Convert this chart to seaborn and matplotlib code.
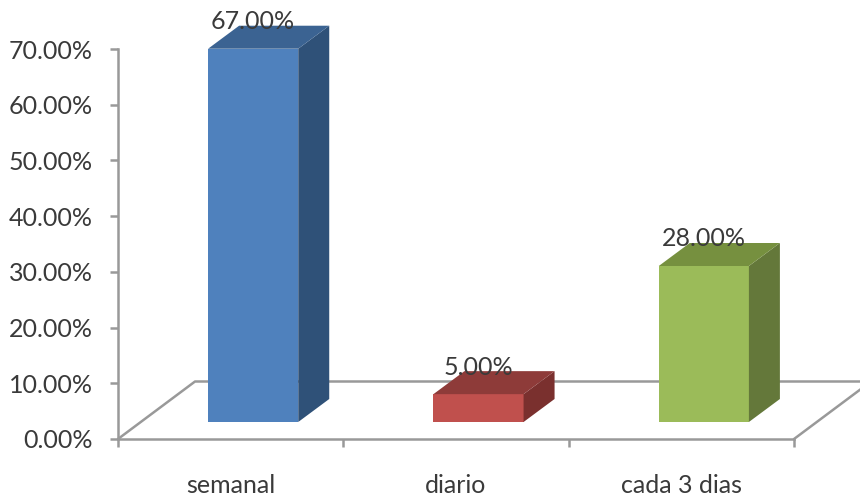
import matplotlib
matplotlib.use("Agg")
import matplotlib.pyplot as plt
import pandas as pd
import seaborn as sns
from matplotlib.patches import Polygon
from matplotlib.ticker import FuncFormatter

categories = ["semanal", "diario", "cada 3 dias"]
values = [67.0, 5.0, 28.0]
front_colors = ["#4F81BD", "#C0504D", "#9BBB59"]
side_colors = ["#2F5178", "#7A302E", "#64783A"]
top_colors = ["#3B6392", "#8E3B39", "#76903F"]
y_ticks = [0, 10, 20, 30, 40, 50, 60, 70]

W, H = 860, 495
L, R, T, B = 118, 794, 49, 439
AXIS = "#999999"
TEXT = "#3a3a3a"
FS = 18
LW = 1.8

sns.set_theme(style="white")
plt.rcParams["font.family"] = ["Lato", "DejaVu Sans"]

fig = plt.figure(figsize=(W / 100, H / 100), dpi=100)
ax = fig.add_axes([L / W, 1 - B / H, (R - L) / W, (B - T) / H])

px_x = 3 / (R - L)          # data units per pixel along x
px_y = 70 / (B - T)         # data units per pixel along y
base = 17 * px_y            # bars stand on the floor, above the front edge
shift = 22.5 * px_x         # bars sit further back on the floor than the labels
dx, dy = 31 * px_x, 23 * px_y
floor_dx, floor_dy = 77 * px_x, 57.5 * px_y

df = pd.DataFrame({"categoria": categories, "valor": values})
sns.barplot(data=df, x="categoria", y="valor", hue="categoria",
            palette=front_colors, legend=False, width=0.4, bottom=base,
            saturation=1, ax=ax, zorder=3, linewidth=0, edgecolor="none")

ax.set_xlim(-0.5, 2.5)
ax.set_ylim(0, 70)

# Floor of the 3D plot
ax.plot([-0.5, -0.5 + floor_dx, 3.0], [0, floor_dy, floor_dy],
        color=AXIS, lw=LW, clip_on=False, zorder=1)
ax.plot([2.5, 2.5 + floor_dx], [0, floor_dy], color=AXIS, lw=LW,
        clip_on=False, zorder=1)

# Depth faces built from each drawn bar
for bar, side, top, val in zip(list(ax.patches), side_colors, top_colors, values):
    bar.set_x(bar.get_x() + shift)
    x0, x1 = bar.get_x(), bar.get_x() + bar.get_width()
    y0, y1 = bar.get_y(), bar.get_y() + bar.get_height()
    ax.add_patch(Polygon([(x1, y0), (x1 + dx, y0 + dy), (x1 + dx, y1 + dy), (x1, y1)],
                         closed=True, fc=side, ec="none", clip_on=False, zorder=3))
    ax.add_patch(Polygon([(x0, y1), (x1, y1), (x1 + dx, y1 + dy), (x0 + dx, y1 + dy)],
                         closed=True, fc=top, ec="none", clip_on=False, zorder=3))
    ax.annotate(f"{val:.2f}%", ((x0 + x1) / 2, y1), xytext=(0, 19.5), textcoords="offset points",
                ha="center", va="center", fontsize=FS, color=TEXT, zorder=5,
                annotation_clip=False)

# Axes
sns.despine(ax=ax, top=True, right=True)
for s in ("left", "bottom"):
    ax.spines[s].set_color(AXIS)
    ax.spines[s].set_linewidth(LW)
    ax.spines[s].set_zorder(2)
ax.set_xlabel("")
ax.set_ylabel("")
ax.set_yticks(y_ticks)
ax.yaxis.set_major_formatter(FuncFormatter(lambda v, _: f"{v:.2f}%"))
ax.set_xticks([-0.5, 0.5, 1.5, 2.5])
ax.set_xticklabels([])
ax.set_xticks([0, 1, 2], labels=categories, minor=True)
ax.tick_params(axis="x", which="major", bottom=True, length=6, width=LW, color=AXIS)
ax.tick_params(axis="x", which="minor", bottom=False, length=0, pad=25,
               labelsize=FS, labelcolor=TEXT)
ax.tick_params(axis="y", which="major", left=True, length=6, width=LW, color=AXIS,
               pad=12, labelsize=FS, labelcolor=TEXT)

fig.savefig("out.png", dpi=100)
